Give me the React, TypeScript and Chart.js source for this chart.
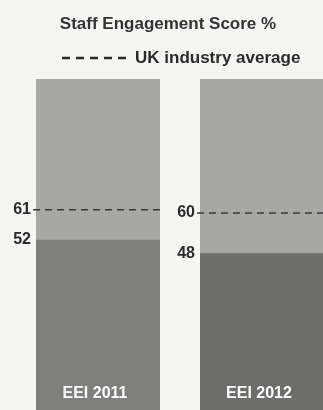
import React, { useEffect, useRef } from "react";
import { Chart, registerables } from "chart.js";

Chart.register(...registerables);

const categories = ["EEI 2011", "EEI 2012"];
const scores = [52, 48];
const industryAvg = [61, 60];
const fullScale = [100, 100];
const titleText = "Staff Engagement Score %";
const legendText = "UK industry average";

const FONT = '"Liberation Sans", Arial, sans-serif';
const TEXT = "#2b2b2b";

const overlayPlugin = {
  id: "overlay",
  afterDatasetsDraw(chart: any) {
    const ctx = chart.ctx;
    const y = chart.scales.y;
    const meta = chart.getDatasetMeta(1);
    ctx.save();
    meta.data.forEach((bar: any, i: number) => {
      const left = bar.x - bar.width / 2;
      const right = bar.x + bar.width / 2;
      const ya = y.getPixelForValue(industryAvg[i]);
      ctx.strokeStyle = "#3a3a3a";
      ctx.lineWidth = 1.5;
      ctx.setLineDash([7, 5]);
      ctx.beginPath();
      ctx.moveTo(left - 3, ya);
      ctx.lineTo(right, ya);
      ctx.stroke();
      ctx.setLineDash([]);
      ctx.fillStyle = TEXT;
      ctx.font = `bold 16px ${FONT}`;
      ctx.textAlign = "right";
      ctx.textBaseline = "middle";
      ctx.fillText(String(industryAvg[i]), left - 5, ya);
      const ys = y.getPixelForValue(scores[i]);
      ctx.fillText(String(scores[i]), left - 5, ys);
      ctx.fillStyle = "#ffffff";
      ctx.textAlign = "center";
      ctx.textBaseline = "alphabetic";
      ctx.font = `bold 16px ${FONT}`;
      ctx.fillText(categories[i], bar.x - 3, 398);
    });
    // title and legend
    ctx.fillStyle = "#333333";
    ctx.font = `bold 17px ${FONT}`;
    ctx.textAlign = "center";
    ctx.textBaseline = "alphabetic";
    ctx.fillText(titleText, 168, 29);
    ctx.fillStyle = TEXT;
    ctx.strokeStyle = TEXT;
    ctx.lineWidth = 2.5;
    ctx.setLineDash([8, 6]);
    ctx.beginPath();
    ctx.moveTo(62, 58);
    ctx.lineTo(132, 58);
    ctx.stroke();
    ctx.setLineDash([]);
    ctx.font = `bold 17px ${FONT}`;
    ctx.textAlign = "left";
    ctx.fillText(legendText, 135, 63);
    ctx.restore();
  },
};

export default function App() {
  const ref = useRef<HTMLCanvasElement>(null);
  useEffect(() => {
    if (!ref.current) return;
    const chart = new Chart(ref.current, {
      type: "bar",
      data: {
        labels: categories,
        datasets: [
          {
            label: "Score",
            data: scores,
            backgroundColor: ["#7e7e7c", "#6d6d6b"],
            grouped: false,
            barPercentage: 0.756,
            categoryPercentage: 1,
          },
          {
            label: "Full",
            data: fullScale,
            backgroundColor: "#a7a7a5",
            grouped: false,
            barPercentage: 0.756,
            categoryPercentage: 1,
          },
        ],
      },
      options: {
        responsive: false,
        animation: false,
        layout: { padding: { top: 79, left: 16, right: 6, bottom: 0 } },
        plugins: {
          legend: { display: false },
          title: { display: false },
          tooltip: { enabled: false },
        },
        scales: {
          x: { display: false },
          y: { display: false, min: 0, max: 100 },
        },
      },
      plugins: [overlayPlugin],
    });
    return () => chart.destroy();
  }, []);
  return (
    <div
      style={{
        position: "absolute",
        left: 0,
        top: 0,
        width: 323,
        height: 410,
        overflow: "hidden",
        background: "#f5f5f3",
      }}
    >
      <canvas ref={ref} width={350} height={414} style={{ display: "block" }} />
    </div>
  );
}
